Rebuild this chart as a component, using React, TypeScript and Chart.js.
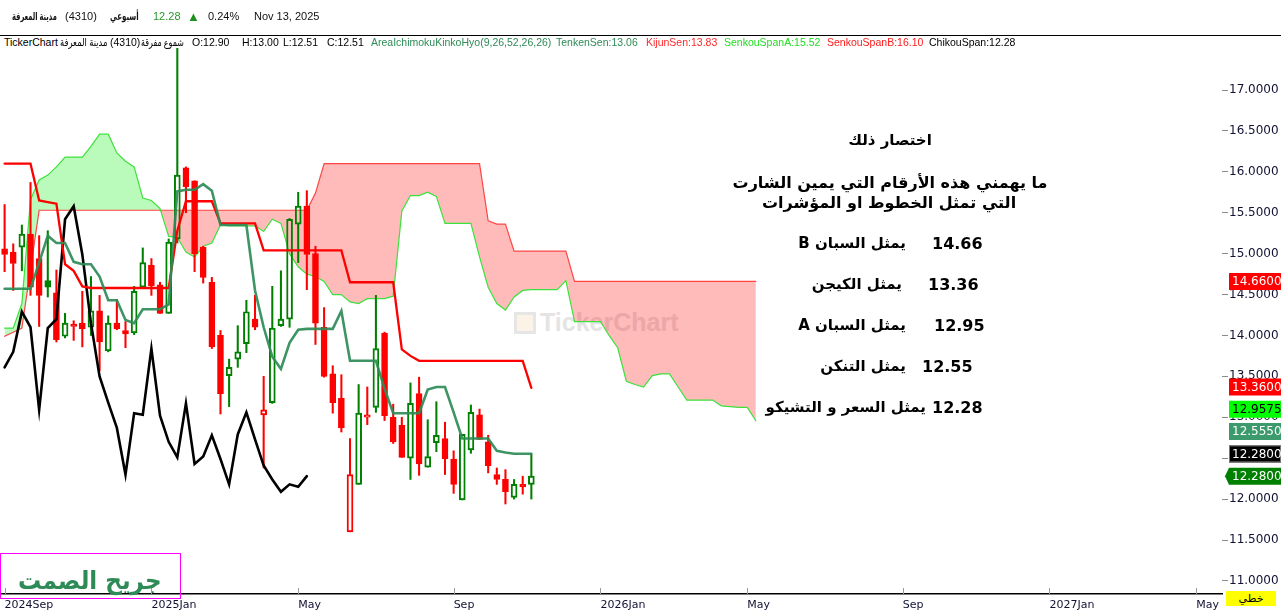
import React, { useEffect, useLayoutEffect, useRef } from 'react';
import { Chart, registerables } from 'chart.js';

Chart.register(...registerables);

// ---------------- data (weekly candles) ----------------
const opens = [
  15.06, 15.02, 15.08, 15.24, 14.94, 14.67, 14.52, 13.99, 14.14, 14.15,
  14.10, 14.30, 13.81, 14.15, 14.06, 14.03, 14.59, 14.86, 14.62, 14.27,
  15.18, 16.05, 15.89, 15.08, 14.65, 14.00, 13.51, 13.71, 13.90, 14.20,
  13.03, 13.18, 14.12, 14.20, 15.36, 15.58, 15.00, 14.10, 13.53, 13.23,
  11.60, 12.18, 13.00, 13.12, 14.03, 13.00, 12.90, 12.50, 13.29, 12.39,
  12.69, 12.74, 12.49, 11.99, 12.60, 13.03, 12.70, 12.30, 12.24, 12.02,
  12.18, 12.18,
];
const highs = [
  15.60, 15.12, 15.35, 15.87, 15.22, 15.28, 14.80, 14.27, 14.18, 14.54,
  14.72, 14.49, 14.24, 14.44, 14.17, 14.60, 15.07, 14.94, 14.65, 15.18,
  17.72, 16.06, 15.89, 15.09, 14.71, 14.06, 13.71, 14.12, 14.43, 14.49,
  13.50, 14.60, 14.79, 15.43, 15.75, 15.77, 15.09, 14.34, 13.63, 13.52,
  12.74, 13.40, 13.37, 14.49, 14.04, 13.16, 13.00, 13.42, 13.49, 12.97,
  13.19, 12.94, 12.59, 12.79, 13.15, 13.10, 12.78, 12.38, 12.36, 12.24,
  12.28, 12.55,
];
const lows = [
  14.78, 14.55, 14.79, 14.49, 14.11, 14.47, 13.92, 13.97, 13.94, 13.86,
  14.00, 13.57, 13.80, 14.07, 13.85, 14.01, 14.59, 14.49, 14.27, 14.27,
  15.13, 15.50, 14.78, 14.64, 13.84, 13.04, 13.13, 13.61, 13.79, 14.07,
  12.38, 13.17, 14.11, 14.10, 14.89, 14.56, 13.89, 13.49, 13.05, 12.82,
  11.60, 12.18, 12.91, 13.06, 12.96, 12.68, 12.51, 12.24, 12.29, 12.39,
  12.58, 12.30, 12.07, 11.99, 12.56, 12.73, 12.32, 12.18, 11.94, 12.00,
  12.06, 12.00,
];
const closes = [
  14.99, 14.88, 15.24, 14.59, 14.49, 14.59, 13.95, 14.15, 14.11, 14.08,
  14.30, 13.92, 14.15, 14.08, 14.02, 14.54, 14.89, 14.61, 14.27, 15.14,
  15.96, 15.82, 15.00, 14.71, 13.86, 13.29, 13.61, 13.80, 14.29, 14.10,
  13.09, 14.09, 14.20, 15.42, 15.58, 14.99, 14.15, 13.50, 13.18, 12.87,
  12.30, 13.05, 13.03, 13.84, 13.02, 12.70, 12.51, 13.17, 12.43, 12.52,
  12.78, 12.49, 12.18, 12.79, 13.06, 12.73, 12.41, 12.24, 12.09, 12.18,
  12.15, 12.28,
];

// Ichimoku lines
const tenkan = [
  14.57, 14.57, 14.57, 14.57, 14.89, 15.22, 15.13, 15.13, 14.90, 14.87,
  14.87, 14.72, 14.43, 14.43, 14.19, 14.15, 14.32, 14.32, 14.32, 14.38,
  15.76, 15.78, 15.78, 15.85, 15.77, 15.35, 15.35, 15.35, 15.35, 14.55,
  14.10, 13.74, 13.59, 13.91, 14.07, 14.08, 14.08, 14.08, 14.08, 14.30,
  13.69, 13.69, 13.69, 13.69, 13.35, 13.05, 13.05, 13.05, 13.05, 13.34,
  13.37, 13.37, 13.06, 12.74, 12.74, 12.74, 12.74, 12.59, 12.57, 12.555,
  12.555, 12.555,
];
const kijun = [
  16.10, 16.10, 16.10, 16.10, 15.65, 15.63, 15.61, 14.87, 14.79, 14.60,
  14.58, 14.58, 14.58, 14.58, 14.58, 14.58, 14.58, 14.58, 14.58, 14.58,
  15.28, 15.64, 15.64, 15.64, 15.64, 15.37, 15.37, 15.37, 15.37, 15.37,
  15.04, 15.04, 15.04, 15.04, 15.04, 15.04, 15.04, 15.04, 15.04, 15.04,
  14.65, 14.65, 14.65, 14.65, 14.65, 14.65, 13.83, 13.75, 13.69, 13.69,
  13.69, 13.69, 13.69, 13.69, 13.69, 13.69, 13.69, 13.69, 13.69, 13.69,
  13.69, 13.36,
];
const spanA = [
  14.09, 14.09, 14.39, 15.66, 15.90, 15.96, 16.06, 16.18, 16.18, 16.18,
  16.31, 16.46, 16.46, 16.23, 16.13, 16.06, 15.68, 15.65, 15.55, 15.21,
  15.20, 15.02, 14.96, 15.09, 15.13, 15.35, 15.34, 15.34, 15.34, 15.34,
  15.27, 15.42, 15.37, 15.00, 14.84, 14.75, 14.72, 14.66, 14.50, 14.50,
  14.41, 14.39, 14.45, 14.45, 14.45, 14.48, 15.52, 15.71, 15.71, 15.75,
  15.70, 15.37, 15.37, 15.37, 15.37, 14.96, 14.59, 14.39, 14.31, 14.47,
  14.55, 14.56, 14.56, 14.56, 14.56, 14.67, 14.17, 14.17, 14.17, 14.17,
  14.00, 13.85, 13.44, 13.40, 13.37, 13.51, 13.53, 13.53, 13.37, 13.21,
  13.21, 13.21, 13.21, 13.14, 13.13, 13.12, 13.12, 12.9575,
];
const spanB = [
  13.99, 14.04, 14.09, 14.81, 15.53, 15.53, 15.53, 15.53, 15.53, 15.53,
  15.53, 15.53, 15.53, 15.53, 15.53, 15.53, 15.53, 15.53, 15.53, 15.53,
  15.53, 15.53, 15.53, 15.53, 15.53, 15.53, 15.53, 15.53, 15.53, 15.53,
  15.53, 15.53, 15.53, 15.53, 15.53, 15.53, 15.74, 16.10, 16.10, 16.10,
  16.10, 16.10, 16.10, 16.10, 16.10, 16.10, 16.10, 16.10, 16.10, 16.10,
  16.10, 16.10, 16.10, 16.10, 16.10, 16.10, 15.40, 15.36, 15.36, 15.03,
  15.03, 15.03, 15.03, 15.03, 15.03, 15.03, 14.66, 14.66, 14.66, 14.66,
  14.66, 14.66, 14.66, 14.66, 14.66, 14.66, 14.66, 14.66, 14.66, 14.66,
  14.66, 14.66, 14.66, 14.66, 14.66, 14.66, 14.66, 14.66,
];
const CHIKOU_SHIFT = 26;

const xTickIdx = [0, 17, 34, 52, 69, 86, 104, 121, 138];
const xTickLabels = ['2024Sep', '2025Jan', 'May', 'Sep', '2026Jan', 'May', 'Sep', '2027Jan', 'May'];
const yTickValues = [11, 11.5, 12, 12.5, 13, 13.5, 14, 14.5, 15, 15.5, 16, 16.5, 17];

const headerItems = [
  { x: 12, w: 45, text: 'مدينة المعرفة', bold: true },
  { x: 65, text: '(4310)' },
  { x: 110, w: 29, text: 'أسبوعي', bold: true },
  { x: 153, text: '12.28', color: '#2a962a' },
  { x: 187, text: '▲', color: '#1f8f1f', size: 13 },
  { x: 208, text: '0.24%' },
  { x: 254, text: 'Nov 13, 2025' },
];
const legendItems = [
  { x: 4, text: 'TickerChart', color: '#000' },
  { x: 60, w: 47, text: 'مدينة المعرفة', color: '#000' },
  { x: 110, text: '(4310)', color: '#000' },
  { x: 141, w: 43, text: 'شموع مفرقة', color: '#000' },
  { x: 192, text: 'O:12.90', color: '#000' },
  { x: 242, text: 'H:13.00', color: '#000' },
  { x: 283, text: 'L:12.51', color: '#000' },
  { x: 327, text: 'C:12.51', color: '#000' },
  { x: 371, text: 'AreaIchimokuKinkoHyo(9,26,52,26,26)', color: '#2e8b57' },
  { x: 556, text: 'TenkenSen:13.06', color: '#2e8b57' },
  { x: 646, text: 'KijunSen:13.83', color: '#ff2a2a' },
  { x: 724, text: 'SenkouSpanA:15.52', color: '#22dd22' },
  { x: 827, text: 'SenkouSpanB:16.10', color: '#ff1a1a' },
  { x: 929, text: 'ChikouSpan:12.28', color: '#000' },
];
const noteTitle = 'اختصار ذلك';
const noteLine1 = 'ما يهمني هذه الأرقام التي يمين الشارت';
const noteLine2 = 'التي تمثل الخطوط او المؤشرات';
const noteNumbers = ['14.66', '13.36', '12.95', '12.55', '12.28'];
const noteTexts = ['يمثل السبان B', 'يمثل  الكيجن', 'يمثل السبان A', 'يمثل التنكن', 'يمثل السعر و التشيكو'];
const noteRowY = [243, 284, 325, 366, 407];
const noteNumX = [932, 928, 934, 922, 932];
const noteTextRight = [906, 902, 906, 906, 926];

// ---------------- layout constants ----------------
const W = 1281;
const H = 612;
const X_MIN = -0.533;
const X_MAX = 140.98;
const Y_MIN = 10.84;
const Y_MAX = 17.66;
const GREEN = '#008000';
const RED = '#ff0000';
const SANS = "'Liberation Sans', 'DejaVu Sans', Arial, sans-serif";
const AR = "'DejaVu Sans', 'Liberation Sans', sans-serif";

type TP = {
  x: number; y: number; text: string; size?: number; color?: string; bold?: boolean;
  family?: string; anchor?: 'left' | 'center' | 'right'; rtl?: boolean; w?: number;
};
function Txt({ x, y, text, size = 11, color = '#000', bold = false, family = SANS, anchor = 'left', rtl = false, w }: TP) {
  const spanRef = useRef<HTMLSpanElement>(null);
  useLayoutEffect(() => {
    const el = spanRef.current;
    if (!el || !w) return;
    const natural = el.offsetWidth;
    if (natural > 0) el.style.transform = `scaleX(${w / natural})`;
  }, [w]);
  const lh = Math.round(size * 1.3);
  const style: React.CSSProperties = {
    position: 'absolute', top: y - lh / 2, lineHeight: lh + 'px', height: lh, fontSize: size,
    fontFamily: family, fontWeight: bold ? 'bold' : 'normal', color, whiteSpace: 'nowrap',
  };
  if (anchor === 'left') style.left = x;
  else if (anchor === 'right') style.right = W - x;
  else { style.left = x; style.transform = 'translateX(-50%)'; }
  return (
    <div style={style}>
      <span
        ref={spanRef}
        style={{
          display: 'inline-block', transformOrigin: anchor === 'right' ? 'right center' : 'left center',
          direction: rtl ? 'rtl' : 'ltr', unicodeBidi: 'isolate',
        }}
      >
        {text}
      </span>
    </div>
  );
}

const overlayPlugin = {
  id: 'overlay',
  afterDraw(chart: any) {
    const ctx: CanvasRenderingContext2D = chart.ctx;
    const xs = chart.scales.x;
    const ys = chart.scales.y;
    const area = chart.chartArea;
    ctx.save();
    // x tick marks pointing up into the plot
    ctx.strokeStyle = '#9a9a9a';
    ctx.lineWidth = 1;
    xTickIdx.forEach((v) => {
      const px = Math.round(xs.getPixelForValue(v)) + 0.5;
      ctx.beginPath();
      ctx.moveTo(px, area.bottom - 6);
      ctx.lineTo(px, area.bottom);
      ctx.stroke();
    });
    // price tags on the right axis
    const n = closes.length;
    const tags = [
      { v: closes[n - 1], bg: GREEN, fg: '#fff', arrow: true, border: '' },
      { v: closes[n - 1], bg: '#000', fg: '#fff', arrow: false, border: '#777' },
      { v: tenkan[n - 1], bg: '#3d9a6c', fg: '#fff', arrow: false, border: '' },
      { v: spanA[spanA.length - 1], bg: '#00ff00', fg: '#000', arrow: false, border: '' },
      { v: kijun[n - 1], bg: RED, fg: '#fff', arrow: false, border: '' },
      { v: spanB[spanB.length - 1], bg: RED, fg: '#fff', arrow: false, border: '' },
    ];
    let prev = Infinity;
    const placed = tags
      .map((t) => ({ ...t, ny: ys.getPixelForValue(t.v) }))
      .sort((a, b) => b.ny - a.ny)
      .map((t) => {
        const y = Math.min(t.ny, prev - 22.3);
        prev = y;
        return { ...t, y };
      });
    const left = area.right + 7;
    const right = W;
    const hh = 8.5;
    ctx.font = "12px 'DejaVu Sans'";
    ctx.textBaseline = 'middle';
    ctx.textAlign = 'left';
    placed.forEach((t) => {
      ctx.fillStyle = t.bg;
      ctx.beginPath();
      if (t.arrow) {
        ctx.moveTo(left - 4, t.y);
        ctx.lineTo(left, t.y - hh);
        ctx.lineTo(right, t.y - hh);
        ctx.lineTo(right, t.y + hh);
        ctx.lineTo(left, t.y + hh);
        ctx.closePath();
      } else {
        ctx.rect(left, t.y - hh, right - left, hh * 2);
      }
      ctx.fill();
      if (t.border) {
        ctx.strokeStyle = t.border;
        ctx.lineWidth = 1;
        ctx.strokeRect(left + 0.5, t.y - hh + 0.5, right - left - 1, hh * 2 - 1);
      }
      ctx.fillStyle = t.fg;
      ctx.fillText(t.v.toFixed(4), left + 3, t.y + 0.5);
    });
    ctx.restore();
  },
};

export default function App() {
  const ref = useRef<HTMLCanvasElement>(null);

  useEffect(() => {
    const canvas = ref.current;
    if (!canvas) return;
    const idx = closes.map((_, i) => i);
    const hollow = idx.map((i) => closes[i] > opens[i]);
    const col = idx.map((i) => {
      const prevC = i === 0 ? opens[0] : closes[i - 1];
      return closes[i] >= prevC ? GREEN : RED;
    });
    const bodies = idx.map((i) => ({ x: i, y: [Math.min(opens[i], closes[i]), Math.max(opens[i], closes[i])] }));
    const upperW = idx.map((i) => ({ x: i, y: [Math.max(opens[i], closes[i]), highs[i]] }));
    const lowerW = idx.map((i) => ({ x: i, y: [lows[i], Math.min(opens[i], closes[i])] }));
    const pts = (arr: number[], shift = 0) => arr.map((v, i) => ({ x: i + shift, y: v }));
    const chikou = closes.slice(CHIKOU_SHIFT).map((v, j) => ({ x: j, y: v }));

    const lineBase = { type: 'line' as const, pointRadius: 0, tension: 0, fill: false, borderCapStyle: 'round' as const };

    const chart = new Chart(canvas, {
      type: 'bar',
      data: {
        datasets: [
          { ...lineBase, label: 'Tenkan', data: pts(tenkan), borderColor: 'rgba(46,139,87,0.92)', borderWidth: 2.6, order: 1 },
          { ...lineBase, label: 'Kijun', data: pts(kijun), borderColor: '#ff0000', borderWidth: 2.3, order: 2 },
          { ...lineBase, label: 'Chikou', data: chikou, borderColor: '#000000', borderWidth: 2.6, order: 3 },
          {
            type: 'bar', label: 'Body', data: bodies as any, grouped: false, barThickness: 6,
            backgroundColor: idx.map((i) => (hollow[i] ? 'rgba(255,255,255,0)' : col[i])),
            borderColor: col, borderWidth: 1.3, borderSkipped: false, minBarLength: 1.5, order: 4,
          },
          {
            type: 'bar', label: 'WickUp', data: upperW as any, grouped: false, barThickness: 1.4,
            backgroundColor: col, borderWidth: 0, order: 5,
          },
          {
            type: 'bar', label: 'WickDown', data: lowerW as any, grouped: false, barThickness: 1.4,
            backgroundColor: col, borderWidth: 0, order: 5,
          },
          {
            ...lineBase, label: 'SpanA', data: pts(spanA), borderColor: 'rgb(60,225,60)', borderWidth: 1.2, order: 6,
            fill: { target: 7, above: 'rgba(0,235,0,0.27)', below: 'rgba(255,0,0,0.27)' },
          },
          { ...lineBase, label: 'SpanB', data: pts(spanB), borderColor: 'rgba(255,40,40,0.85)', borderWidth: 1.2, order: 7 },
        ] as any,
      },
      options: {
        responsive: false,
        animation: false,
        devicePixelRatio: 1,
        events: [],
        layout: { padding: { top: 36, left: 0, right: 0, bottom: 0 } },
        plugins: {
          legend: { display: false },
          tooltip: { enabled: false },
          filler: { drawTime: 'beforeDatasetsDraw' },
        } as any,
        scales: {
          x: {
            type: 'linear', min: X_MIN, max: X_MAX, offset: false, position: 'bottom',
            afterBuildTicks: (s: any) => { s.ticks = xTickIdx.map((v) => ({ value: v })); },
            afterFit: (s: any) => { s.height = 18; },
            grid: { display: false },
            border: { display: true, color: '#000', width: 1.5 },
            ticks: {
              autoSkip: false, maxRotation: 0, minRotation: 0, align: 'start', padding: -3,
              color: '#111133', font: { family: 'DejaVu Sans', size: 11 },
              callback: (_v: any, i: number) => xTickLabels[i] ?? '',
            },
          },
          y: {
            type: 'linear', position: 'right', min: Y_MIN, max: Y_MAX,
            afterBuildTicks: (s: any) => { s.ticks = yTickValues.map((v) => ({ value: v })); },
            afterFit: (s: any) => { s.width = 59; },
            grid: { display: true, drawOnChartArea: false, drawTicks: true, tickLength: 6, color: '#8a8a8a' },
            border: { display: false },
            ticks: {
              padding: 1, color: '#111133', font: { family: 'DejaVu Sans', size: 12 },
              callback: (v: any) => Number(v).toFixed(4),
            },
          },
        } as any,
      },
      plugins: [overlayPlugin],
    });
    return () => chart.destroy();
  }, []);

  return (
    <div style={{ position: 'absolute', left: 0, top: 0, width: W, height: H, background: '#fff', overflow: 'hidden' }}>
      {/* faint TickerChart watermark */}
      <div style={{ position: 'absolute', left: 514, top: 312, width: 16, height: 16, border: '3px solid #e6e6e6', background: '#fbf3e6' }} />
      <Txt x={540} y={322} text="TickerChart" size={25} bold color="#e4e4e4" />

      <canvas ref={ref} width={W} height={H} style={{ position: 'absolute', left: 0, top: 0, width: W, height: H }} />

      {/* header */}
      {headerItems.map((h, i) => (
        <Txt key={'h' + i} x={h.x} y={16} w={h.w} rtl={!!h.w} text={h.text} size={h.size ?? 11} bold={!!h.bold} color={h.color ?? '#111'} family={SANS} />
      ))}
      <div style={{ position: 'absolute', left: 0, top: 35, width: W, height: 1, background: '#000' }} />
      <div style={{ position: 'absolute', left: 0, top: 36, width: 1020, height: 12, background: '#fff' }} />
      {legendItems.map((l, i) => (
        <Txt key={'l' + i} x={l.x} y={41.5} w={l.w} rtl={!!l.w} text={l.text} size={10.5} color={l.color} family={SANS} />
      ))}

      {/* annotation */}
      <Txt x={890} y={140} text={noteTitle} size={15} bold anchor="center" rtl family={AR} />
      <Txt x={890} y={182} text={noteLine1} size={16} bold anchor="center" rtl family={AR} />
      <Txt x={889} y={202} text={noteLine2} size={16} bold anchor="center" rtl family={AR} />
      {noteNumbers.map((num, i) => (
        <React.Fragment key={'n' + i}>
          <Txt x={noteNumX[i]} y={noteRowY[i]} text={num} size={16} bold family={AR} />
          <Txt x={noteTextRight[i]} y={noteRowY[i]} text={noteTexts[i]} size={15} bold anchor="right" rtl family={AR} />
        </React.Fragment>
      ))}

      {/* signature box */}
      <div style={{ position: 'absolute', left: 0, top: 553, width: 179, height: 44, border: '1px solid #ff00ff' }} />
      <Txt x={18} y={580} w={144} text="جريح الصمت" size={25} bold rtl family={AR} color="#2e8b57" />

      {/* yellow line-type box */}
      <div style={{
        position: 'absolute', left: 1226, top: 591, width: 50, height: 15, background: '#ffff00',
        fontFamily: AR, fontSize: 11, lineHeight: '15px', textAlign: 'center', color: '#000',
      }}>خطي</div>
    </div>
  );
}
